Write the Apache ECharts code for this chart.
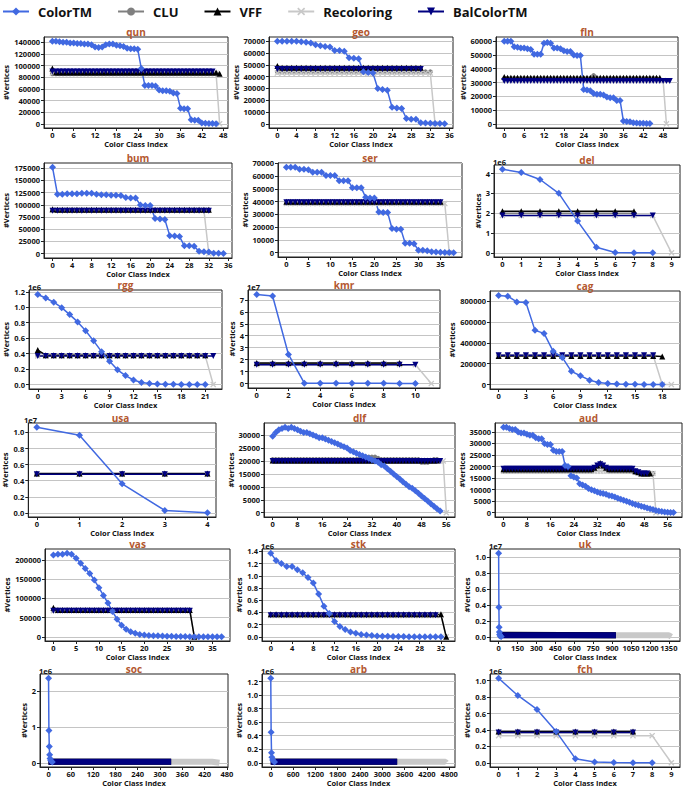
<!DOCTYPE html>
<html><head><meta charset="utf-8">
<script src="https://cdn.jsdelivr.net/npm/echarts@6/dist/echarts.min.js"></script>
<style>html,body{margin:0;padding:0;background:#fff}#c{width:685px;height:795px}</style>
</head><body><div id="c"></div><script>
// ---------------- DATA ----------------
const seriesNames = ['ColorTM','CLU','VFF','Recoloring','BalColorTM'];

// qun
const qun_xticks = [0,6,12,18,24,30,36,42,48];
const qun_yticks = ['0','20000','40000','60000','80000','100000','120000','140000'];
const qun_ColorTM = [142e3,142e3,141e3,140e3,140e3,139e3,139e3,138e3,138e3,137e3,137e3,136e3,132e3,131e3,132e3,136e3,137e3,137e3,135e3,134e3,133e3,130e3,129e3,129e3,128e3,95e3,66e3,66e3,66e3,65e3,58e3,57e3,57e3,56e3,53e3,52e3,27e3,26e3,26e3,7e3,6e3,6e3,1500,1000,800,500,300];
const qun_CLU = [86e3,86e3,86e3,86e3,86e3,86e3,86e3,86e3,86e3,86e3,86e3,86e3,86e3,86e3,86e3,86e3,86e3,86e3,86e3,86e3,86e3,86e3,86e3,86e3,86e3,86e3,86e3,86e3,86e3,86e3,86e3,86e3,86e3,86e3,86e3,86e3,86e3,86e3,86e3,86e3,86e3,86e3,86e3,86e3,86e3,86e3,86e3];
const qun_VFF = [95e3,88e3,88e3,88e3,88e3,88e3,88e3,88e3,88e3,88e3,88e3,88e3,88e3,88e3,88e3,88e3,88e3,88e3,88e3,88e3,88e3,88e3,88e3,88e3,88e3,88e3,88e3,88e3,88e3,88e3,88e3,88e3,88e3,88e3,88e3,88e3,88e3,88e3,88e3,88e3,88e3,88e3,88e3,88e3,88e3,88e3,88e3,86e3];
const qun_Recoloring = [87e3,87e3,87e3,87e3,87e3,87e3,87e3,87e3,87e3,87e3,87e3,87e3,87e3,87e3,87e3,87e3,87e3,87e3,87e3,87e3,87e3,87e3,87e3,87e3,87e3,87e3,87e3,87e3,87e3,87e3,87e3,87e3,87e3,87e3,87e3,87e3,87e3,87e3,87e3,87e3,87e3,87e3,87e3,87e3,87e3,87e3,87e3,0];
const qun_BalColorTM = [90e3,90e3,90e3,90e3,90e3,90e3,90e3,90e3,90e3,90e3,90e3,90e3,90e3,90e3,90e3,90e3,90e3,90e3,90e3,90e3,90e3,90e3,90e3,90e3,90e3,90e3,90e3,90e3,90e3,90e3,90e3,90e3,90e3,90e3,90e3,90e3,90e3,90e3,90e3,90e3,90e3,90e3,90e3,90e3,90e3,90e3];

// geo
const geo_xticks = [0,4,8,12,16,20,24,28,32,36];
const geo_yticks = ['0','10000','20000','30000','40000','50000','60000','70000'];
const geo_ColorTM = [70e3,70e3,70e3,70e3,70e3,69.5e3,69e3,68.5e3,67e3,66e3,65.5e3,65e3,62e3,62e3,61.5e3,56e3,55.5e3,55e3,44e3,43.5e3,43e3,30e3,29e3,28.5e3,14e3,13.5e3,13e3,4.5e3,4e3,4e3,1000,800,600,400,300,200];
const geo_CLU = [44e3,44e3,44e3,44e3,44e3,44e3,44e3,44e3,44e3,44e3,44e3,44e3,44e3,44e3,44e3,44e3,44e3,44e3,44e3,44e3,44e3,44e3,44e3,44e3,44e3,44e3,44e3,44e3,44e3,44e3,44e3,44e3,44e3];
const geo_VFF = [49e3,47.5e3,47.5e3,47.5e3,47.5e3,47.5e3,47.5e3,47.5e3,47.5e3,47.5e3,47.5e3,47.5e3,47.5e3,47.5e3,47.5e3,47.5e3,47.5e3,47.5e3,47.5e3,47.5e3,47.5e3,47.5e3,47.5e3,47.5e3,47.5e3,47.5e3,47.5e3,47.5e3,47.5e3,47.5e3,47.5e3];
const geo_Recoloring = [43e3,43e3,43e3,43e3,43e3,43e3,43e3,43e3,43e3,43e3,43e3,43e3,43e3,43e3,43e3,43e3,43e3,43e3,43e3,43e3,43e3,43e3,43e3,43e3,43e3,43e3,43e3,43e3,43e3,43e3,43e3,43e3,43e3,0];
const geo_BalColorTM = [46.5e3,46.5e3,46.5e3,46.5e3,46.5e3,46.5e3,46.5e3,46.5e3,46.5e3,46.5e3,46.5e3,46.5e3,46.5e3,46.5e3,46.5e3,46.5e3,46.5e3,46.5e3,46.5e3,46.5e3,46.5e3,46.5e3,46.5e3,46.5e3,46.5e3,46.5e3,46.5e3,46.5e3,46.5e3,46.5e3,46.5e3];

// fln
const fln_xticks = [0,6,12,18,24,30,36,42,48];
const fln_yticks = ['0','10000','20000','30000','40000','50000','60000'];
const fln_ColorTM = [60e3,60e3,60e3,56e3,55.5e3,55e3,55e3,54.5e3,54e3,50.5e3,50.5e3,50.5e3,58.5e3,59e3,58.5e3,55e3,55e3,54.5e3,53e3,52.5e3,52.5e3,50e3,49.5e3,49.5e3,25e3,24.5e3,24e3,22e3,21.5e3,21.5e3,21e3,19.5e3,19e3,19e3,17e3,17e3,2000,1800,1500,800,600,500,400,300,200];
const fln_CLU = [33e3,33e3,33e3,33e3,33e3,33e3,33e3,33e3,33e3,33e3,33e3,33e3,33e3,33e3,33e3,33e3,33e3,33e3,33e3,33e3,33e3,33e3,33e3,33e3,33e3,33e3,33e3,35e3,33e3,33e3,33e3,33e3,33e3,33e3,33e3,33e3,33e3,33e3,33e3,33e3,33e3,33e3,33e3,33e3,33e3,33e3,33e3];
const fln_VFF = [34e3,33.5e3,33.5e3,33.5e3,33.5e3,33.5e3,33.5e3,33.5e3,33.5e3,33.5e3,33.5e3,33.5e3,33.5e3,33.5e3,33.5e3,33.5e3,33.5e3,33.5e3,33.5e3,33.5e3,33.5e3,33.5e3,33.5e3,33.5e3,33.5e3,33.5e3,33.5e3,33.5e3,33.5e3,33.5e3,33.5e3,33.5e3,33.5e3,33.5e3,33.5e3,33.5e3,33.5e3,33.5e3,33.5e3,33.5e3,33.5e3,33.5e3,33.5e3,33.5e3,33.5e3,33.5e3,33.5e3,33.5e3];
const fln_Recoloring = [31.5e3,31.5e3,31.5e3,31.5e3,31.5e3,31.5e3,31.5e3,31.5e3,31.5e3,31.5e3,31.5e3,31.5e3,31.5e3,31.5e3,31.5e3,31.5e3,31.5e3,31.5e3,31.5e3,31.5e3,31.5e3,31.5e3,31.5e3,31.5e3,31.5e3,31.5e3,31.5e3,31.5e3,31.5e3,31.5e3,31.5e3,31.5e3,31.5e3,31.5e3,31.5e3,31.5e3,31.5e3,31.5e3,31.5e3,31.5e3,31.5e3,31.5e3,31.5e3,31.5e3,31.5e3,31.5e3,31.5e3,31.5e3,31.5e3,0];
const fln_BalColorTM = [31e3,31e3,31e3,31e3,31e3,31e3,31e3,31e3,31e3,31e3,31e3,31e3,31e3,31e3,31e3,31e3,31e3,31e3,31e3,31e3,31e3,31e3,31e3,31e3,31e3,31e3,31e3,31e3,31e3,31e3,31e3,31e3,31e3,31e3,31e3,31e3,31e3,31e3,31e3,31e3,31e3,31e3,31e3,31e3,31e3,31e3,31e3,31e3,31e3,31e3,31e3];

// bum
const bum_xticks = [0,4,8,12,16,20,24,28,32,36];
const bum_yticks = ['0','25000','50000','75000','100000','125000','150000','175000'];
const bum_ColorTM = [177e3,122e3,122e3,123e3,123e3,123e3,124e3,124e3,124e3,122e3,121e3,121e3,120e3,120e3,119e3,115e3,114e3,114e3,100e3,99e3,99e3,72e3,71e3,70e3,37e3,36e3,35e3,16e3,16e3,15e3,5e3,4e3,3.5e3,1000,800,500];
const bum_CLU = [89e3,89e3,89e3,89e3,89e3,89e3,89e3,89e3,89e3,89e3,89e3,89e3,89e3,89e3,89e3,89e3,89e3,89e3,89e3,89e3,89e3,89e3,89e3,89e3,89e3,89e3,89e3,89e3,89e3,89e3,89e3,89e3,89e3];
const bum_VFF = [91e3,90e3,90e3,90e3,90e3,90e3,90e3,90e3,90e3,90e3,90e3,90e3,90e3,90e3,90e3,90e3,90e3,90e3,90e3,90e3,90e3,90e3,90e3,90e3,90e3,90e3,90e3,90e3,90e3,90e3,90e3,90e3,90e3];
const bum_Recoloring = [89e3,89e3,89e3,89e3,89e3,89e3,89e3,89e3,89e3,89e3,89e3,89e3,89e3,89e3,89e3,89e3,89e3,89e3,89e3,89e3,89e3,89e3,89e3,89e3,89e3,89e3,89e3,89e3,89e3,89e3,89e3,89e3,0];
const bum_BalColorTM = [88e3,88e3,88e3,88e3,88e3,88e3,88e3,88e3,88e3,88e3,88e3,88e3,88e3,88e3,88e3,88e3,88e3,88e3,88e3,88e3,88e3,88e3,88e3,88e3,88e3,88e3,88e3,88e3,88e3,88e3,88e3,88e3,88e3];

// ser
const ser_xticks = [0,5,10,15,20,25,30,35];
const ser_yticks = ['0','10000','20000','30000','40000','50000','60000','70000'];
const ser_ColorTM = [67e3,67e3,67e3,65.5e3,65.5e3,65e3,63e3,63e3,63e3,60.5e3,60.5e3,60.5e3,56.5e3,56.5e3,56.5e3,51e3,51e3,51e3,43.5e3,43e3,43e3,32e3,31.5e3,31.5e3,19e3,18.5e3,18.5e3,7.5e3,7.5e3,7e3,2000,2000,1500,700,500,300,200,100,50];
const ser_CLU = [39e3,39e3,39e3,39e3,39e3,39e3,39e3,39e3,39e3,39e3,39e3,39e3,39e3,39e3,39e3,39e3,39e3,39e3,39e3,39e3,39e3,39e3,39e3,39e3,39e3,39e3,39e3,39e3,39e3,39e3,39e3,39e3,39e3,39e3,39e3,39e3];
const ser_VFF = [40e3,40e3,40e3,40e3,40e3,40e3,40e3,40e3,40e3,40e3,40e3,40e3,40e3,40e3,40e3,40e3,40e3,40e3,40e3,40e3,40e3,40e3,40e3,40e3,40e3,40e3,40e3,40e3,40e3,40e3,40e3,40e3,40e3,40e3,40e3,40e3];
const ser_Recoloring = [38.5e3,38.5e3,38.5e3,38.5e3,38.5e3,38.5e3,38.5e3,38.5e3,38.5e3,38.5e3,38.5e3,38.5e3,38.5e3,38.5e3,38.5e3,38.5e3,38.5e3,38.5e3,38.5e3,38.5e3,38.5e3,38.5e3,38.5e3,38.5e3,38.5e3,38.5e3,38.5e3,38.5e3,38.5e3,38.5e3,38.5e3,38.5e3,38.5e3,38.5e3,38.5e3,38.5e3,38.5e3,0];
const ser_BalColorTM = [39.5e3,39.5e3,39.5e3,39.5e3,39.5e3,39.5e3,39.5e3,39.5e3,39.5e3,39.5e3,39.5e3,39.5e3,39.5e3,39.5e3,39.5e3,39.5e3,39.5e3,39.5e3,39.5e3,39.5e3,39.5e3,39.5e3,39.5e3,39.5e3,39.5e3,39.5e3,39.5e3,39.5e3,39.5e3,39.5e3,39.5e3,39.5e3,39.5e3,39.5e3,39.5e3,39.5e3];

// del
const del_xticks = [0,1,2,3,4,5,6,7,8,9];
const del_yticks = ['0','1','2','3','4'];
const del_ColorTM = [4.22e6,4.05e6,3.7e6,3.0e6,1.6e6,0.28e6,0.02e6,5e3,1e3];
const del_CLU = [2.0e6,2.0e6,2.0e6,2.0e6,2.0e6,2.0e6,2.0e6,2.0e6];
const del_VFF = [2.1e6,2.1e6,2.1e6,2.1e6,2.1e6,2.1e6,2.1e6,2.1e6];
const del_Recoloring = [1.88e6,1.88e6,1.88e6,1.88e6,1.88e6,1.88e6,1.88e6,1.88e6,1.88e6,0];
const del_BalColorTM = [1.88e6,1.88e6,1.88e6,1.88e6,1.88e6,1.88e6,1.88e6,1.88e6,1.88e6];

// rgg
const rgg_xticks = [0,3,6,9,12,15,18,21];
const rgg_yticks = ['0.0','0.2','0.4','0.6','0.8','1.0','1.2'];
const rgg_ColorTM = [1.165e6,1.12e6,1.065e6,0.995e6,0.905e6,0.81e6,0.695e6,0.565e6,0.425e6,0.30e6,0.19e6,0.115e6,0.058e6,0.027e6,0.013e6,6e3,3e3,2e3,1e3,1e3,500,300];
const rgg_CLU = [0.375e6,0.375e6,0.375e6,0.375e6,0.375e6,0.375e6,0.375e6,0.375e6,0.375e6,0.375e6,0.375e6,0.375e6,0.375e6,0.375e6,0.375e6,0.375e6,0.375e6,0.375e6,0.375e6,0.375e6,0.375e6,0.375e6];
const rgg_VFF = [0.445e6,0.38e6,0.38e6,0.38e6,0.38e6,0.38e6,0.38e6,0.38e6,0.38e6,0.38e6,0.38e6,0.38e6,0.38e6,0.38e6,0.38e6,0.38e6,0.38e6,0.38e6,0.38e6,0.38e6,0.38e6,0.38e6];
const rgg_Recoloring = [0.37e6,0.37e6,0.37e6,0.37e6,0.37e6,0.37e6,0.37e6,0.37e6,0.37e6,0.37e6,0.37e6,0.37e6,0.37e6,0.37e6,0.37e6,0.37e6,0.37e6,0.37e6,0.37e6,0.37e6,0.37e6,0.37e6,0];
const rgg_BalColorTM = [0.37e6,0.37e6,0.37e6,0.37e6,0.37e6,0.37e6,0.37e6,0.37e6,0.37e6,0.37e6,0.37e6,0.37e6,0.37e6,0.37e6,0.37e6,0.37e6,0.37e6,0.37e6,0.37e6,0.37e6,0.37e6,0.37e6,0.37e6];

// kmr
const kmr_xticks = [0,2,4,6,8,10];
const kmr_yticks = ['0','1','2','3','4','5','6','7'];
const kmr_ColorTM = [7.45e7,7.32e7,2.43e7,3e5,2.5e5,2e5,2e5,1.5e5,1.5e5,1e5,1e5];
const kmr_CLU = [1.65e7,1.65e7,1.65e7,1.65e7,1.65e7,1.65e7,1.65e7,1.65e7,1.65e7,1.65e7];
const kmr_VFF = [1.72e7,1.72e7,1.72e7,1.72e7,1.72e7,1.72e7,1.72e7,1.72e7,1.72e7,1.72e7];
const kmr_Recoloring = [1.58e7,1.58e7,1.58e7,1.58e7,1.58e7,1.58e7,1.58e7,1.58e7,1.58e7,1.58e7,1.58e7,0];
const kmr_BalColorTM = [1.58e7,1.58e7,1.58e7,1.58e7,1.58e7,1.58e7,1.58e7,1.58e7,1.58e7,1.58e7,1.58e7];

// cag
const cag_xticks = [0,3,6,9,12,15,18];
const cag_yticks = ['0','200000','400000','600000','800000'];
const cag_ColorTM = [855e3,848e3,793e3,787e3,520e3,491e3,319e3,260e3,127e3,84e3,42e3,20e3,10e3,5e3,3e3,2e3,1e3,500,200];
const cag_CLU = [280e3,280e3,280e3,280e3,280e3,280e3,280e3,280e3,280e3,280e3,280e3,280e3,280e3,280e3,280e3,280e3,280e3,280e3];
const cag_VFF = [275e3,275e3,275e3,275e3,275e3,275e3,275e3,275e3,275e3,275e3,275e3,275e3,275e3,275e3,275e3,275e3,275e3,275e3,270e3];
const cag_Recoloring = [278e3,278e3,278e3,278e3,278e3,278e3,278e3,278e3,278e3,278e3,278e3,278e3,278e3,278e3,278e3,278e3,278e3,278e3,0,0];
const cag_BalColorTM = [282e3,282e3,282e3,282e3,282e3,282e3,282e3,282e3,282e3,282e3,282e3,282e3,282e3,282e3,282e3,282e3,282e3,282e3];

// usa
const usa_xticks = [0,1,2,3,4];
const usa_yticks = ['0.0','0.2','0.4','0.6','0.8','1.0'];
const usa_ColorTM = [1.065e7,0.965e7,0.362e7,0.03e7,0.002e7];
const usa_CLU = [0.485e7,0.485e7,0.485e7,0.485e7,0.485e7];
const usa_VFF = [0.49e7,0.49e7,0.49e7,0.49e7,0.49e7];
const usa_Recoloring = [0.48e7,0.48e7,0.48e7,0.48e7,0.48e7];
const usa_BalColorTM = [0.48e7,0.48e7,0.48e7,0.48e7,0.48e7];

// dlf
const dlf_xticks = [0,8,16,24,32,40,48,56];
const dlf_yticks = ['0','5000','10000','15000','20000','25000','30000'];
const dlf_ColorTM = [29500,31000,32000,32500,33000,32500,33000,32500,32000,31500,31000,31000,30500,30000,29500,29000,29000,28500,28000,27500,27000,26500,26000,25500,25000,24000,23500,23000,22500,22000,21500,21000,20500,20000,19500,18500,18000,17000,16000,15000,14000,13000,12000,11000,10000,9500,8500,7500,6500,5500,4500,3500,2500,1500,700];
const dlf_CLU = [20500,20500,20500,20500,20500,20500,20500,20500,20500,20500,20500,20500,20500,20500,20500,20500,20500,20500,20500,20500,20500,20500,20500,20500,20500,20500,20500,20500,21000,21500,21500,21500,21500,21500,21000,20500,20500,20500,20500,20500,20500,20500,20500,20500,20500,20500,20500,20500,19500,19500,19500,20000,20500,20500];
const dlf_VFF = [20200,20200,20200,20200,20200,20200,20200,20200,20200,20200,20200,20200,20200,20200,20200,20200,20200,20200,20200,20200,20200,20200,20200,20200,20200,20200,20200,20200,20200,20200,20200,20200,20200,20200,20200,20200,20200,20200,20200,20200,20200,20200,20200,20200,20200,20200,20200,20200,20200,20200,20200,20200,20200,20200];
const dlf_Recoloring = [20000,20000,20000,20000,20000,20000,20000,20000,20000,20000,20000,20000,20000,20000,20000,20000,20000,20000,20000,20000,20000,20000,20000,20000,20000,20000,20000,20000,20000,20000,20000,20000,20000,20000,20000,20000,20000,20000,20000,20000,20000,20000,20000,20000,20000,20000,20000,20000,20000,20000,20000,20000,20000,20000,20000,20000,0];
const dlf_BalColorTM = [20000,20000,20000,20000,20000,20000,20000,20000,20000,20000,20000,20000,20000,20000,20000,20000,20000,20000,20000,20000,20000,20000,20000,20000,20000,20000,20000,20000,20000,20000,20000,20000,20000,20000,20000,20000,20000,20000,20000,20000,20000,20000,20000,20000,20000,20000,20000,20000,20000,20000,20000,20000,20000,20000,20000];

// aud
const aud_xticks = [0,8,16,24,32,40,48,56];
const aud_yticks = ['0','5000','10000','15000','20000','25000','30000','35000'];
const aud_ColorTM = [37000,37000,36500,36000,36000,35000,34500,34500,34000,33500,33500,32500,32000,32000,30000,29500,29500,27000,26500,26500,26500,20500,20000,16000,15500,15000,12500,12000,11500,10500,10000,9500,9000,8500,8300,8000,7500,7200,6800,6300,5800,5400,5000,4500,4000,3600,3200,2800,2500,2100,1700,1400,1000,700,500,300,200,150,100];
const aud_CLU = [18000,18000,18000,18000,18000,18000,18000,18000,18000,18000,18000,18000,18000,18000,18000,18000,18000,18000,18000,18000,18000,18000,18000,18000,18000,18000,18000,18000,18000,18000,18000,19000,20000,21000,20000,19000,18000,18000,18000,18000,18000,18000,18000,18000,18000,17500,17500,17000,17000,17000,17000,17000];
const aud_VFF = [18800,18800,18800,18800,18800,18800,18800,18800,18800,18800,18800,18800,18800,18800,18800,18800,18800,18800,18800,18800,18800,18800,18800,18800,18800,18800,18800,18800,18800,18800,18800,19500,20500,21500,20500,19500,18800,18800,18800,18800,18800,18800,18800,18800,18800,18000,17500,17000,17000,17000,17000];
const aud_Recoloring = [18000,18000,18000,18000,18000,18000,18000,18000,18000,18000,18000,18000,18000,18000,18000,18000,18000,18000,18000,18000,18000,18000,18000,18000,18000,18000,18000,18000,18000,18000,18000,18000,18000,18000,18000,18000,18000,18000,18000,18000,18000,18000,18000,18000,18000,17500,17500,17000,17000,17000,17000,17000,0];
const aud_BalColorTM = [19000,19000,19000,19000,19000,19000,19000,19000,19000,19000,19000,19000,19000,19000,19000,19000,19000,19000,19000,19000,19000,19000,19000,19000,19000,19000,19000,19000,19000,19000,19000,19500,20500,21000,20500,19500,19000,19000,19000,19000,19000,19000,19000,19000,19000,18000,17500,17000,17000,17000];

// vas
const vas_xticks = [0,5,10,15,20,25,30,35];
const vas_yticks = ['0','50000','100000','150000','200000'];
const vas_ColorTM = [213e3,215e3,215e3,218e3,215e3,205e3,192e3,178e3,165e3,148e3,128e3,108e3,88e3,66e3,46e3,30e3,20e3,13e3,9e3,6e3,4.5e3,3.5e3,3e3,2.5e3,2e3,1.5e3,1.2e3,1000,800,600,500,400,300,300,200,200,100,100];
const vas_CLU = [69e3,69e3,69e3,69e3,69e3,69e3,69e3,69e3,69e3,69e3,69e3,69e3,69e3,69e3,69e3,69e3,69e3,69e3,69e3,69e3,69e3,69e3,69e3,69e3,69e3,69e3,69e3,69e3,69e3,69e3,69e3];
const vas_VFF = [76e3,70e3,70e3,70e3,70e3,70e3,70e3,70e3,70e3,70e3,70e3,70e3,70e3,70e3,70e3,70e3,70e3,70e3,70e3,70e3,70e3,70e3,70e3,70e3,70e3,70e3,70e3,70e3,70e3,70e3,70e3,0];
const vas_Recoloring = [68e3,68e3,68e3,68e3,68e3,68e3,68e3,68e3,68e3,68e3,68e3,68e3,68e3,68e3,68e3,68e3,68e3,68e3,68e3,68e3,68e3,68e3,68e3,68e3,68e3,68e3,68e3,68e3,68e3,68e3,68e3,0];
const vas_BalColorTM = [68e3,68e3,68e3,68e3,68e3,68e3,68e3,68e3,68e3,68e3,68e3,68e3,68e3,68e3,68e3,68e3,68e3,68e3,68e3,68e3,68e3,68e3,68e3,68e3,68e3,68e3,68e3,68e3,68e3,68e3,68e3];

// stk
const stk_xticks = [0,4,8,12,16,20,24,28,32];
const stk_yticks = ['0.0','0.2','0.4','0.6','0.8','1.0','1.2','1.4'];
const stk_ColorTM = [1.37e6,1.25e6,1.2e6,1.15e6,1.15e6,1.1e6,1.05e6,0.97e6,0.88e6,0.7e6,0.5e6,0.38e6,0.25e6,0.17e6,0.12e6,0.08e6,0.06e6,0.04e6,0.03e6,0.02e6,0.015e6,0.01e6,8e3,6e3,5e3,4e3,3e3,2e3,2e3,1e3,1e3,1e3,500];
const stk_CLU = [0.36e6,0.36e6,0.36e6,0.36e6,0.36e6,0.36e6,0.36e6,0.36e6,0.36e6,0.36e6,0.36e6,0.36e6,0.36e6,0.36e6,0.36e6,0.36e6,0.36e6,0.36e6,0.36e6,0.36e6,0.36e6,0.36e6,0.36e6,0.36e6,0.36e6,0.36e6,0.36e6,0.36e6,0.36e6,0.36e6,0.36e6,0.36e6];
const stk_VFF = [0.37e6,0.37e6,0.37e6,0.37e6,0.37e6,0.37e6,0.37e6,0.37e6,0.37e6,0.37e6,0.37e6,0.37e6,0.37e6,0.37e6,0.37e6,0.37e6,0.37e6,0.37e6,0.37e6,0.37e6,0.37e6,0.37e6,0.37e6,0.37e6,0.37e6,0.37e6,0.37e6,0.37e6,0.37e6,0.37e6,0.37e6,0.37e6,0.37e6,0];
const stk_Recoloring = [0.35e6,0.35e6,0.35e6,0.35e6,0.35e6,0.35e6,0.35e6,0.35e6,0.35e6,0.35e6,0.35e6,0.35e6,0.35e6,0.35e6,0.35e6,0.35e6,0.35e6,0.35e6,0.35e6,0.35e6,0.35e6,0.35e6,0.35e6,0.35e6,0.35e6,0.35e6,0.35e6,0.35e6,0.35e6,0.35e6,0.35e6,0.35e6,0.35e6,0];
const stk_BalColorTM = [0.355e6,0.355e6,0.355e6,0.355e6,0.355e6,0.355e6,0.355e6,0.355e6,0.355e6,0.355e6,0.355e6,0.355e6,0.355e6,0.355e6,0.355e6,0.355e6,0.355e6,0.355e6,0.355e6,0.355e6,0.355e6,0.355e6,0.355e6,0.355e6,0.355e6,0.355e6,0.355e6,0.355e6,0.355e6,0.355e6,0.355e6,0.355e6];

// uk (very many classes: [index, vertices] vertices of the drawn polyline)
const uk_xticks = [0,150,300,450,600,750,900,1050,1200,1350];
const uk_yticks = ['0.0','0.2','0.4','0.6','0.8','1.0'];
const uk_ColorTM = [[0,1.05e7],[2,0.37e7],[4,0.12e7],[6,0.06e7],[8,0.03e7],[12,0.01e7],[20,0.003e7]];
const uk_CLU = [[0,0.02e7],[930,0.02e7]];
const uk_VFF = [[0,0.025e7],[930,0.02e7]];
const uk_Recoloring = [[0,0.02e7],[1350,0.02e7],[1370,0]];
const uk_BalColorTM = [[0,0.02e7],[930,0.02e7]];

// soc
const soc_xticks = [0,60,120,180,240,300,360,420,480];
const soc_yticks = ['0','1','2'];
const soc_ColorTM = [[0,2.35e6],[1,0.9e6],[2,0.45e6],[3,0.22e6],[4,0.12e6],[6,0.06e6],[10,0.02e6]];
const soc_CLU = [[0,3e4],[330,3e4]];
const soc_VFF = [[0,3e4],[330,3e4]];
const soc_Recoloring = [[0,3e4],[440,3e4],[460,0]];
const soc_BalColorTM = [[0,3e4],[330,3e4]];

// arb
const arb_xticks = [0,600,1200,1800,2400,3000,3600,4200,4800];
const arb_yticks = ['0.0','0.2','0.4','0.6','0.8','1.0','1.2'];
const arb_ColorTM = [[0,1.25e6],[10,0.45e6],[20,0.15e6],[30,0.08e6],[50,0.04e6],[100,0.01e6]];
const arb_CLU = [[0,1.5e4],[3400,1.5e4]];
const arb_VFF = [[0,1.5e4],[3400,1.5e4]];
const arb_Recoloring = [[0,1.5e4],[4700,1.5e4],[4720,0]];
const arb_BalColorTM = [[0,1.5e4],[3400,1.5e4]];

// fch
const fch_xticks = [0,1,2,3,4,5,6,7,8,9];
const fch_yticks = ['0.0','0.2','0.4','0.6','0.8','1.0'];
const fch_ColorTM = [1.03e6,0.82e6,0.65e6,0.38e6,0.05e6,0.01e6,3e3,1e3,500];
const fch_CLU = [0.37e6,0.37e6,0.37e6,0.37e6,0.37e6,0.37e6,0.37e6,0.37e6];
const fch_VFF = [0.38e6,0.38e6,0.38e6,0.38e6,0.38e6,0.38e6,0.38e6,0.38e6];
const fch_Recoloring = [0.33e6,0.33e6,0.33e6,0.33e6,0.33e6,0.33e6,0.33e6,0.33e6,0.33e6,0];
const fch_BalColorTM = [0.37e6,0.37e6,0.37e6,0.37e6,0.37e6,0.37e6,0.37e6,0.37e6];

// ---------------- PANELS (layout) ----------------
const panels = [
 {n:'qun', box:[44,37,184,91], xt:qun_xticks, yt:qun_yticks, ys:1, d:{ColorTM:qun_ColorTM,CLU:qun_CLU,VFF:qun_VFF,Recoloring:qun_Recoloring,BalColorTM:qun_BalColorTM}},
 {n:'geo', box:[269,37,184,91], xt:geo_xticks, yt:geo_yticks, ys:1, d:{ColorTM:geo_ColorTM,CLU:geo_CLU,VFF:geo_VFF,Recoloring:geo_Recoloring,BalColorTM:geo_BalColorTM}},
 {n:'fln', box:[496,37,182,91], xt:fln_xticks, yt:fln_yticks, ys:1, d:{ColorTM:fln_ColorTM,CLU:fln_CLU,VFF:fln_VFF,Recoloring:fln_Recoloring,BalColorTM:fln_BalColorTM}},
 {n:'bum', box:[44,163,188,95], xt:bum_xticks, yt:bum_yticks, ys:1, d:{ColorTM:bum_ColorTM,CLU:bum_CLU,VFF:bum_VFF,Recoloring:bum_Recoloring,BalColorTM:bum_BalColorTM}},
 {n:'ser', box:[278,163,184,94], xt:ser_xticks, yt:ser_yticks, ys:1, d:{ColorTM:ser_ColorTM,CLU:ser_CLU,VFF:ser_VFF,Recoloring:ser_Recoloring,BalColorTM:ser_BalColorTM}},
 {n:'del', box:[494,165,186,92], xt:del_xticks, yt:del_yticks, ys:1e6, off:'1e6', d:{ColorTM:del_ColorTM,CLU:del_CLU,VFF:del_VFF,Recoloring:del_Recoloring,BalColorTM:del_BalColorTM}},
 {n:'rgg', box:[29,290,193,99], xt:rgg_xticks, yt:rgg_yticks, ys:1e6, off:'1e6', d:{ColorTM:rgg_ColorTM,CLU:rgg_CLU,VFF:rgg_VFF,Recoloring:rgg_Recoloring,BalColorTM:rgg_BalColorTM}},
 {n:'kmr', box:[248,290,192,98], xt:kmr_xticks, yt:kmr_yticks, ys:1e7, off:'1e7', d:{ColorTM:kmr_ColorTM,CLU:kmr_CLU,VFF:kmr_VFF,Recoloring:kmr_Recoloring,BalColorTM:kmr_BalColorTM}},
 {n:'cag', box:[490,291,190,98], xt:cag_xticks, yt:cag_yticks, ys:1, d:{ColorTM:cag_ColorTM,CLU:cag_CLU,VFF:cag_VFF,Recoloring:cag_Recoloring,BalColorTM:cag_BalColorTM}},
 {n:'usa', box:[25,423,191,94], xt:usa_xticks, yt:usa_yticks, ys:1e7, off:'1e7', d:{ColorTM:usa_ColorTM,CLU:usa_CLU,VFF:usa_VFF,Recoloring:usa_Recoloring,BalColorTM:usa_BalColorTM}},
 {n:'dlf', box:[264,423,191,94], xt:dlf_xticks, yt:dlf_yticks, ys:1, d:{ColorTM:dlf_ColorTM,CLU:dlf_CLU,VFF:dlf_VFF,Recoloring:dlf_Recoloring,BalColorTM:dlf_BalColorTM}},
 {n:'aud', box:[495,423,187,94], xt:aud_xticks, yt:aud_yticks, ys:1, d:{ColorTM:aud_ColorTM,CLU:aud_CLU,VFF:aud_VFF,Recoloring:aud_Recoloring,BalColorTM:aud_BalColorTM}},
 {n:'vas', box:[45,549,185,92], xt:vas_xticks, yt:vas_yticks, ys:1, d:{ColorTM:vas_ColorTM,CLU:vas_CLU,VFF:vas_VFF,Recoloring:vas_Recoloring,BalColorTM:vas_BalColorTM}},
 {n:'stk', box:[262,549,193,92], xt:stk_xticks, yt:stk_yticks, ys:1e6, off:'1e6', d:{ColorTM:stk_ColorTM,CLU:stk_CLU,VFF:stk_VFF,Recoloring:stk_Recoloring,BalColorTM:stk_BalColorTM}},
 {n:'uk', box:[490,549,190,92], xt:uk_xticks, yt:uk_yticks, ys:1e7, off:'1e7', dense:true, d:{ColorTM:uk_ColorTM,CLU:uk_CLU,VFF:uk_VFF,Recoloring:uk_Recoloring,BalColorTM:uk_BalColorTM}},
 {n:'soc', box:[40,674,188,93], xt:soc_xticks, yt:soc_yticks, ys:1e6, off:'1e6', dense:true, d:{ColorTM:soc_ColorTM,CLU:soc_CLU,VFF:soc_VFF,Recoloring:soc_Recoloring,BalColorTM:soc_BalColorTM}},
 {n:'arb', box:[262,674,193,93], xt:arb_xticks, yt:arb_yticks, ys:1e6, off:'1e6', dense:true, d:{ColorTM:arb_ColorTM,CLU:arb_CLU,VFF:arb_VFF,Recoloring:arb_Recoloring,BalColorTM:arb_BalColorTM}},
 {n:'fch', box:[490,674,190,93], xt:fch_xticks, yt:fch_yticks, ys:1e6, off:'1e6', d:{ColorTM:fch_ColorTM,CLU:fch_CLU,VFF:fch_VFF,Recoloring:fch_Recoloring,BalColorTM:fch_BalColorTM}}
];

// ---------------- BUILD ----------------
const FONT = "'Open Sans', 'DejaVu Sans', sans-serif";
const XPATH = 'path://M0,1.5L1.5,0L5,3.5L8.5,0L10,1.5L6.5,5L10,8.5L8.5,10L5,6.5L1.5,10L0,8.5L3.5,5Z';
const STY = {
  ColorTM:{color:'#4169e1', symbol:'diamond', size:7},
  CLU:{color:'#808080', symbol:'circle', size:5},
  VFF:{color:'#000000', symbol:'triangle', size:6},
  Recoloring:{color:'#c8c8c8', symbol:XPATH, size:6},
  BalColorTM:{color:'#000080', symbol:'triangle', size:6, rotate:180}
};
const DRAW_ORDER = ['CLU','Recoloring','VFF','BalColorTM','ColorTM'];
const toPairs = a => Array.isArray(a[0]) ? a : a.map((v,i)=>[i,v]);
const TXT = {fontFamily:FONT, fontWeight:'bold', color:'#111'};

const grids=[], xAxes=[], yAxes=[], series=[], graphics=[];
panels.forEach((p,k)=>{
  const [L,T,W,H] = p.box;
  grids.push({left:L, top:T, width:W, height:H, show:true, borderColor:'#222', borderWidth:1, backgroundColor:'#fff'});
  let x0=Infinity,x1=-Infinity,y0=Infinity,y1=-Infinity;
  const pts = {};
  DRAW_ORDER.forEach(s=>{ pts[s]=toPairs(p.d[s]); pts[s].forEach(([x,y])=>{x0=Math.min(x0,x);x1=Math.max(x1,x);y0=Math.min(y0,y);y1=Math.max(y1,y);}); });
  const dx=(x1-x0)*0.05, dy=(y1-y0)*0.05;
  const yv = p.yt.map(s=>parseFloat(s)*p.ys);
  const ymaxChars = Math.max(...p.yt.map(s=>s.length));
  xAxes.push({type:'value', gridIndex:k, min:x0-dx, max:x1+dx,
    axisLine:{show:true, onZero:false, lineStyle:{color:'#222', width:1}},
    axisTick:{show:true, length:3, customValues:p.xt, lineStyle:{color:'#222'}},
    axisLabel:{customValues:p.xt, margin:3, fontSize:7.5, ...TXT, formatter:v=>String(v)},
    splitLine:{show:false},
    name:'Color Class Index', nameLocation:'middle', nameGap:10, nameTextStyle:{fontSize:7.5, ...TXT}});
  yAxes.push({type:'value', gridIndex:k, min:y0-dy, max:y1+dy,
    axisLine:{show:true, onZero:false, lineStyle:{color:'#222', width:1}},
    axisTick:{show:true, length:3, customValues:yv, lineStyle:{color:'#222'}},
    axisLabel:{customValues:yv, margin:4, fontSize:7.5, ...TXT,
      formatter:v=>{const i=yv.findIndex(t=>Math.abs(t-v)<=1e-6*Math.max(1,Math.abs(t))); return i>=0?p.yt[i]:'';}},
    splitLine:{show:true, lineStyle:{color:'#c4c4c4', width:1}},
    name:'#Vertices', nameLocation:'middle', nameRotate:90, nameGap:7+ymaxChars*4.1, nameTextStyle:{fontSize:7.5, ...TXT}});
  DRAW_ORDER.forEach(s=>{
    const st = STY[s];
    const band = p.dense && s!=='ColorTM';
    series.push({type:'line', name:s, xAxisIndex:k, yAxisIndex:k, data:pts[s],
      symbol: band?'none':st.symbol, symbolSize:st.size, symbolRotate:st.rotate||0,
      showSymbol:!band,
      itemStyle:{color:st.color}, lineStyle:{color:st.color, width: band?6:1.5},
      emphasis:{disabled:true}, animation:false, silent:true});
  });
  graphics.push({type:'text', x:L+W/2, y:T, style:{text:p.n, x:0, y:0, fill:'#b4582f', font:"bold 10px 'Open Sans', sans-serif", textAlign:'center', textVerticalAlign:'bottom', align:'center', verticalAlign:'bottom'}});
  if (p.off) graphics.push({type:'text', x:L-1, y:T+1, style:{text:p.off, fill:'#111', font:"bold 7.5px 'Open Sans', sans-serif", textAlign:'left', textVerticalAlign:'bottom', align:'left', verticalAlign:'bottom'}});
});

const chart = echarts.init(document.getElementById('c'), null, {renderer:'svg', width:685, height:795});
chart.setOption({
  animation:false,
  backgroundColor:'#fff',
  textStyle:{fontFamily:FONT},
  legend:{data:seriesNames, left:2, top:5, padding:0, itemGap:25, itemWidth:26, itemHeight:10,
    textStyle:{fontFamily:FONT, fontWeight:'bold', fontSize:13, color:'#111', padding:[0,0,0,4]}},
  grid:grids, xAxis:xAxes, yAxis:yAxes, series:series, graphic:graphics
});
</script></body></html>
